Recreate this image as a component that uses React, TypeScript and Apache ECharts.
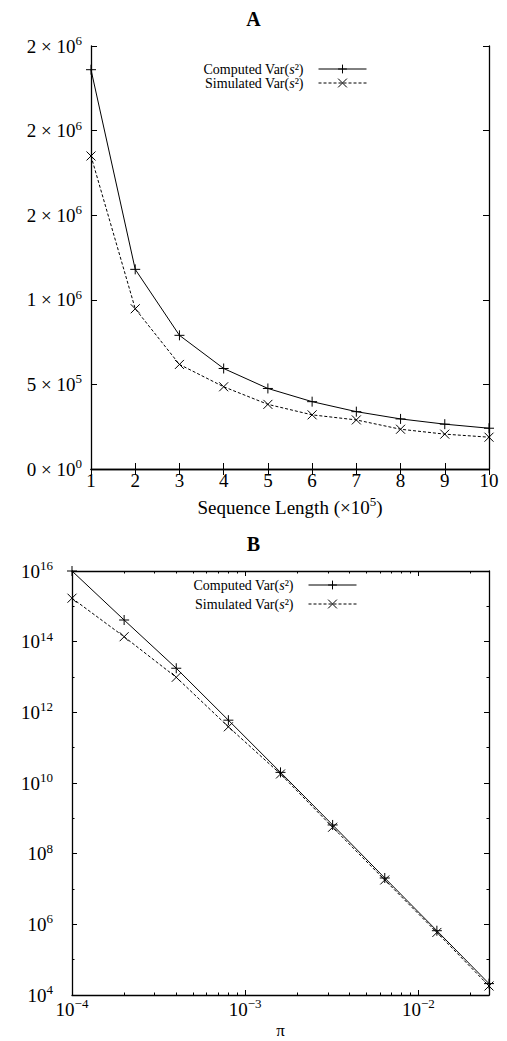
import React, { useEffect, useRef } from "react";
import * as echarts from "echarts";

const F = "Liberation Serif";

// Panel A data
const seqLen = [1, 2, 3, 4, 5, 6, 7, 8, 9, 10];
const computedA = [2.36e6, 1.18e6, 0.79e6, 0.594e6, 0.476e6, 0.398e6, 0.339e6, 0.296e6, 0.265e6, 0.241e6];
const simulatedA = [1.85e6, 0.947e6, 0.618e6, 0.486e6, 0.382e6, 0.32e6, 0.29e6, 0.235e6, 0.206e6, 0.188e6];
const yATickMant = ["0", "5", "1", "2", "2", "2"];
const yATickExp = ["0", "5", "6", "6", "6", "6"];

// Panel B data
const piVals = [1e-4, 2e-4, 4e-4, 8e-4, 1.6e-3, 3.2e-3, 6.4e-3, 1.28e-2, 2.56e-2];
const computedB = [1e16, 4.1e14, 1.77e13, 6e11, 2e10, 6.5e8, 2.05e7, 6.6e5, 2.1e4];
const simulatedB = [1.7e15, 1.38e14, 9.8e12, 3.9e11, 1.8e10, 5.6e8, 1.8e7, 5.9e5, 1.8e4];
const xBMajor = [1e-4, 1e-3, 1e-2];
const xBMinor = [2e-4, 3e-4, 4e-4, 5e-4, 6e-4, 7e-4, 8e-4, 9e-4, 2e-3, 3e-3, 4e-3, 5e-3, 6e-3, 7e-3, 8e-3, 9e-3, 2e-2];
const yBMajor = [1e4, 1e6, 1e8, 1e10, 1e12, 1e14, 1e16];
const yBMinor = [1e5, 1e7, 1e9, 1e11, 1e13, 1e15];

const seriesNames = ["Computed Var(s²)", "Simulated Var(s²)"];

const PLUS = "path://M0,5L10,5M5,0L5,10";
const TIMES = "path://M0,0L10,10M10,0L0,10";

const FS = 19;
const rich = {
  b: { fontFamily: F, fontSize: FS, color: "#000", lineHeight: 24 },
  sup: { fontFamily: F, fontSize: 13, color: "#000", verticalAlign: "top", lineHeight: 13 },
  t: { fontFamily: F, fontSize: FS, color: "#000", lineHeight: 24 },
};

const legRich = {
  t: { fontFamily: F, fontSize: 14, color: "#000", lineHeight: 12 },
  i: { fontFamily: F, fontSize: 14, fontStyle: "italic", color: "#000", lineHeight: 12 },
};

const expStr = (v: number) => {
  const e = Math.round(Math.log10(v));
  return e < 0 ? "−" + Math.abs(e) : String(e);
};

const axisLine = { show: true, lineStyle: { color: "#000", width: 1.3 } };

export default function App() {
  const ref = useRef<HTMLDivElement>(null);
  useEffect(() => {
    if (!ref.current) return;
    const chart = echarts.init(ref.current, null, { renderer: "svg" });
    const legendFmt = (n: string) => `{t|${n.split(" ")[0]} Var(}{i|s}{t|²)}`;
    const mkLegend = (top: number, right: number, gap: number) => ({
      orient: "vertical",
      top,
      right,
      align: "right",
      itemWidth: 48,
      itemHeight: 11,
      itemGap: gap,
      data: seriesNames,
      formatter: legendFmt,
      selectedMode: false,
      lineStyle: { width: 1 },
      itemStyle: { borderWidth: 1 },
      textStyle: { rich: legRich, padding: [0, 10, 0, 0] },
    });
    const lineSeries = (name: string, data: any[], xi: number, yi: number, dashed: boolean) => ({
      name,
      type: "line",
      xAxisIndex: xi,
      yAxisIndex: yi,
      data,
      symbol: dashed ? TIMES : PLUS,
      symbolSize: dashed ? 9 : 10,
      clip: false,
      itemStyle: { color: "#000", borderColor: "#000", borderWidth: 1 },
      lineStyle: { color: "#000", width: 1, type: dashed ? [3, 2] : "solid" },
    });
    const option: any = {
      animation: false,
      backgroundColor: "#fff",
      title: [
        { text: "A", left: "center", top: 4, textStyle: { fontFamily: F, fontWeight: "bold", fontSize: 20, color: "#000" } },
        { text: "B", left: "center", top: 529, textStyle: { fontFamily: F, fontWeight: "bold", fontSize: 20, color: "#000" } },
      ],
      legend: [mkLegend(57, 135, 0), mkLegend(573, 145, 5)],
      grid: [
        { left: 91, right: 18, top: 46, height: 423, containLabel: false, outerBoundsMode: "none" },
        { left: 72, right: 18, top: 571, height: 424, containLabel: false, outerBoundsMode: "none" },
      ],
      xAxis: [
        {
          gridIndex: 0, type: "value", position: "bottom", min: 1, max: 10, interval: 1,
          axisLine, splitLine: { show: false },
          axisTick: { inside: true, length: 6, lineStyle: { color: "#000" } },
          axisLabel: { margin: 2, fontFamily: F, fontSize: FS, color: "#000" },
          name: "{t|Sequence Length (×10}{sup|5}{t|)}",
          nameLocation: "middle", nameGap: 26, nameMoveOverlap: false,
          nameTextStyle: { rich },
        },
        {
          gridIndex: 0, type: "value", position: "top", min: 1, max: 10, interval: 1,
          axisLine, splitLine: { show: false },
          axisTick: { inside: true, length: 6, lineStyle: { color: "#000" } },
          axisLabel: { show: false },
        },
        {
          gridIndex: 1, type: "log", position: "bottom", min: 1e-4, max: 2.56e-2,
          axisLine, splitLine: { show: false },
          axisTick: { inside: true, length: 5, customValues: xBMajor, lineStyle: { color: "#000" } },
          axisLabel: {
            customValues: xBMajor, margin: 2, rich,
            formatter: (v: number) => `{b|10}{sup|${expStr(v)}}`,
          },
          name: "π", nameLocation: "middle", nameGap: 29, nameMoveOverlap: false,
          nameTextStyle: { fontFamily: F, fontSize: 17, color: "#000", lineHeight: 12 },
        },
        {
          gridIndex: 1, type: "log", position: "bottom", min: 1e-4, max: 2.56e-2,
          axisLine: { show: false }, splitLine: { show: false },
          axisTick: { inside: true, length: 2.5, customValues: xBMinor, lineStyle: { color: "#000" } },
          axisLabel: { show: false },
        },
        {
          gridIndex: 1, type: "log", position: "top", min: 1e-4, max: 2.56e-2,
          axisLine, splitLine: { show: false },
          axisTick: { inside: true, length: 5, customValues: xBMajor, lineStyle: { color: "#000" } },
          axisLabel: { show: false },
        },
        {
          gridIndex: 1, type: "log", position: "top", min: 1e-4, max: 2.56e-2,
          axisLine: { show: false }, splitLine: { show: false },
          axisTick: { inside: true, length: 2.5, customValues: xBMinor, lineStyle: { color: "#000" } },
          axisLabel: { show: false },
        },
      ],
      yAxis: [
        {
          gridIndex: 0, type: "value", position: "left", min: 0, max: 2.5e6, interval: 5e5,
          axisLine, splitLine: { show: false },
          axisTick: { inside: true, length: 6, lineStyle: { color: "#000" } },
          axisLabel: {
            margin: 9, rich,
            formatter: (v: number) => {
              const i = Math.round(v / 5e5);
              return `{b|${yATickMant[i]} × 10}{sup|${yATickExp[i]}}`;
            },
          },
        },
        {
          gridIndex: 0, type: "value", position: "right", min: 0, max: 2.5e6, interval: 5e5,
          axisLine, splitLine: { show: false },
          axisTick: { inside: true, length: 6, lineStyle: { color: "#000" } },
          axisLabel: { show: false },
        },
        {
          gridIndex: 1, type: "log", position: "left", min: 1e4, max: 1e16,
          axisLine, splitLine: { show: false },
          axisTick: { inside: true, length: 5, customValues: yBMajor, lineStyle: { color: "#000" } },
          axisLabel: {
            customValues: yBMajor, margin: 19, rich,
            formatter: (v: number) => `{b|10}{sup|${expStr(v)}}`,
          },
        },
        {
          gridIndex: 1, type: "log", position: "left", min: 1e4, max: 1e16,
          axisLine: { show: false }, splitLine: { show: false },
          axisTick: { inside: true, length: 2.5, customValues: yBMinor, lineStyle: { color: "#000" } },
          axisLabel: { show: false },
        },
        {
          gridIndex: 1, type: "log", position: "right", min: 1e4, max: 1e16,
          axisLine, splitLine: { show: false },
          axisTick: { inside: true, length: 5, customValues: yBMajor, lineStyle: { color: "#000" } },
          axisLabel: { show: false },
        },
        {
          gridIndex: 1, type: "log", position: "right", min: 1e4, max: 1e16,
          axisLine: { show: false }, splitLine: { show: false },
          axisTick: { inside: true, length: 2.5, customValues: yBMinor, lineStyle: { color: "#000" } },
          axisLabel: { show: false },
        },
      ],
      series: [
        lineSeries(seriesNames[0], seqLen.map((x, i) => [x, computedA[i]]), 0, 0, false),
        lineSeries(seriesNames[1], seqLen.map((x, i) => [x, simulatedA[i]]), 0, 0, true),
        lineSeries(seriesNames[0], piVals.map((x, i) => [x, computedB[i]]), 2, 2, false),
        lineSeries(seriesNames[1], piVals.map((x, i) => [x, simulatedB[i]]), 2, 2, true),
      ],
    };
    chart.setOption(option);
    return () => chart.dispose();
  }, []);
  return (
    <div
      ref={ref}
      style={{ position: "absolute", left: 0, top: 0, width: 507, height: 1041, background: "#fff" }}
    />
  );
}
